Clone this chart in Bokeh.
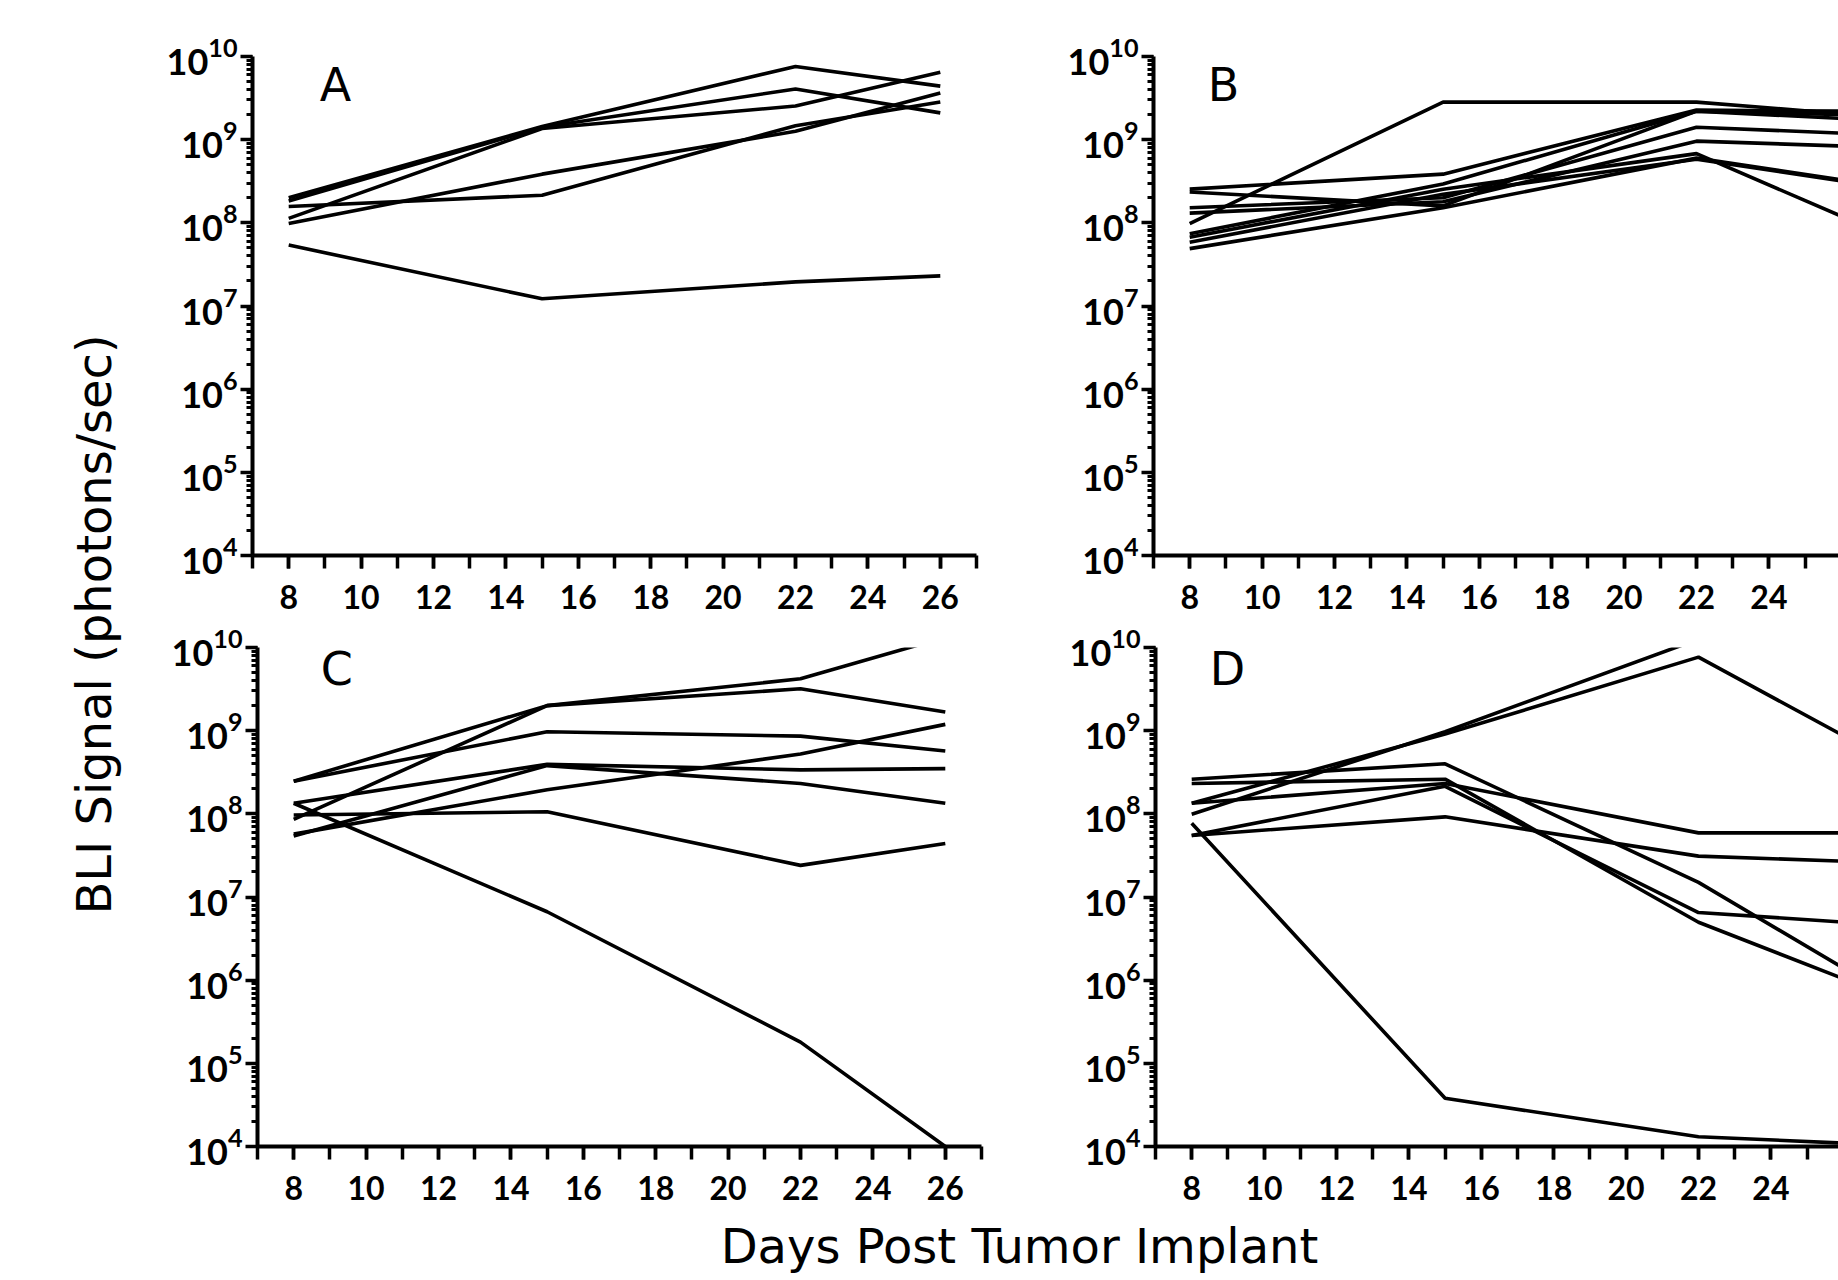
import math
from bokeh.plotting import figure
from bokeh.layouts import row, column
from bokeh.models import Range1d, SingleIntervalTicker, Label
from bokeh.embed import file_html
from bokeh.resources import INLINE

NAN = float("nan")

# ---------------- data (days post implant, BLI photons/sec) ----------------
days = [8, 15, 22, 26]

panel_A = [
    [2.0e8, 1.44e9, 7.6e9, 4.4e9],
    [1.83e8, 1.41e9, 4.07e9, 2.1e9],
    [1.13e8, 1.36e9, 2.54e9, 6.45e9],
    [1.57e8, 2.15e8, 1.47e9, 2.83e9],
    [9.8e7, 3.85e8, 1.26e9, 3.65e9],
    [5.4e7, 1.22e7, 1.95e7, 2.3e7],
]

panel_B = [
    [9.8e7, 2.83e9, 2.83e9, 2.05e9],
    [2.54e8, 3.85e8, 2.27e9, 2.2e9],
    [2.35e8, 1.6e8, 2.2e9, 1.8e9],
    [1.52e8, 2.0e8, 1.41e9, 1.2e9],
    [1.31e8, 1.79e8, 9.6e8, 8.4e8],
    [7.4e7, 2.93e8, 2.2e9, 2.0e9],
    [6.7e7, 2.54e8, 6.8e8, 1.2e8],
    [5.85e7, 2.2e8, 5.8e8, 3.2e8],
    [4.9e7, 1.52e8, 6.0e8, 3.3e8],
]

panel_C = [
    [2.47e8, 2.0e9, 4.2e9, 1.33e10],
    [2.47e8, 9.7e8, 8.6e8, 5.7e8],
    [8.6e7, 2.0e9, 3.19e9, 1.68e9],
    [1.34e8, 3.93e8, 3.38e8, 3.5e8],
    [5.4e7, 3.8e8, 2.32e8, 1.34e8],
    [5.7e7, 1.95e8, 5.25e8, 1.19e9],
    [9.7e7, 1.06e8, 2.4e7, 4.4e7],
    [1.34e8, 6.65e6, 1.8e5, 1.0e4],
]

panel_D = [
    [9.9e7, 9.7e8, 1.26e10, NAN],
    [1.34e8, 9.1e8, 7.66e9, 8.7e8],
    [2.61e8, 4.0e8, 1.5e7, 1.4e6],
    [2.32e8, 2.61e8, 4.97e6, 1.04e6],
    [1.34e8, 2.32e8, 5.9e7, 5.9e7],
    [5.5e7, 2.14e8, 6.5e6, 5.0e6],
    [5.5e7, 9.2e7, 3.1e7, 2.7e7],
    [7.7e7, 3.8e4, 1.31e4, 1.1e4],
]

panel_letters = ["A", "B", "C", "D"]
x_title = "Days Post Tumor Implant"
y_title = "BLI Signal (photons/sec)"

TITLE_FONT = "DejaVu Sans"
TICK_FONT = "Lato"


def make_panel(series, letter, width, height, bl, br, bt, bb, x_end, letter_x, letter_y):
    p = figure(width=width, height=height, y_axis_type="log",
               x_range=Range1d(7, x_end), y_range=Range1d(1e4, 1e10),
               output_backend="svg", toolbar_location=None,
               min_border_left=bl, min_border_right=br,
               min_border_top=bt, min_border_bottom=bb)
    p.outline_line_color = None
    p.grid.visible = False
    p.background_fill_color = "white"
    for s in series:
        p.line(days, s, line_color="black", line_width=3.6)

    xa = p.xaxis[0]
    xa.ticker = SingleIntervalTicker(interval=2, num_minor_ticks=2)
    xa.axis_line_width = 4
    xa.axis_line_color = "black"
    xa.major_tick_line_width = 3.5
    xa.minor_tick_line_width = 3.5
    xa.major_tick_out = 13
    xa.major_tick_in = 0
    xa.minor_tick_out = 13
    xa.minor_tick_in = 0
    xa.major_label_text_font = TICK_FONT
    xa.major_label_text_font_style = "bold"
    xa.major_label_text_font_size = "32px"
    xa.major_label_text_color = "black"
    xa.major_label_standoff = 16

    ya = p.yaxis[0]
    ya.ticker.num_minor_ticks = 10
    ya.axis_line_width = 4
    ya.axis_line_color = "black"
    ya.major_tick_line_width = 3.5
    ya.minor_tick_line_width = 3
    ya.major_tick_out = 12
    ya.major_tick_in = 0
    ya.minor_tick_out = 6
    ya.minor_tick_in = 0
    ya.major_label_text_font = TICK_FONT
    ya.major_label_text_font_style = "bold"
    ya.major_label_text_font_size = "36px"
    ya.major_label_text_color = "black"
    ya.major_label_standoff = 3

    p.add_layout(Label(x=letter_x, y=letter_y, text=letter, text_font=TITLE_FONT,
                       text_font_size="46px", text_color="black",
                       text_baseline="alphabetic", text_align="left"))
    return p


pA = make_panel(panel_A, panel_letters[0], 862, 615, 114, 24, 56, 60, 27.0, 8.86, 4.6e9)
pB = make_panel(panel_B, panel_letters[1], 838, 615, 153, 0, 56, 60, 7 + 685 / 36.2, 8.5, 4.6e9)
pC = make_panel(panel_C, panel_letters[2], 862, 601, 119, 19, 32, 70, 27.0, 8.75, 5.5e9)
pD = make_panel(panel_D, panel_letters[3], 838, 601, 155, 0, 32, 70, 7 + 683 / 36.2, 8.5, 5.5e9)


def blank(width, height):
    f = figure(width=width, height=height, x_range=Range1d(0, width),
               y_range=Range1d(0, height), x_axis_type=None, y_axis_type=None,
               toolbar_location=None, output_backend="svg",
               min_border_left=0, min_border_right=0, min_border_top=0, min_border_bottom=0)
    f.outline_line_color = None
    f.grid.visible = False
    return f


ylab = blank(138, 1280)
ylab.add_layout(Label(x=93, y=656, text=y_title, angle=math.pi / 2,
                      text_align="center", text_baseline="middle",
                      text_font=TITLE_FONT, text_font_size="48px", text_color="black"))

xlab = blank(1700, 64)
xlab.add_layout(Label(x=881, y=35, text=x_title, text_align="center",
                      text_baseline="alphabetic", text_font=TITLE_FONT,
                      text_font_size="48px", text_color="black"))

layout = row(ylab, column(row(pA, pB), row(pC, pD), xlab))

open("out.html", "w").write(file_html(layout, INLINE))
